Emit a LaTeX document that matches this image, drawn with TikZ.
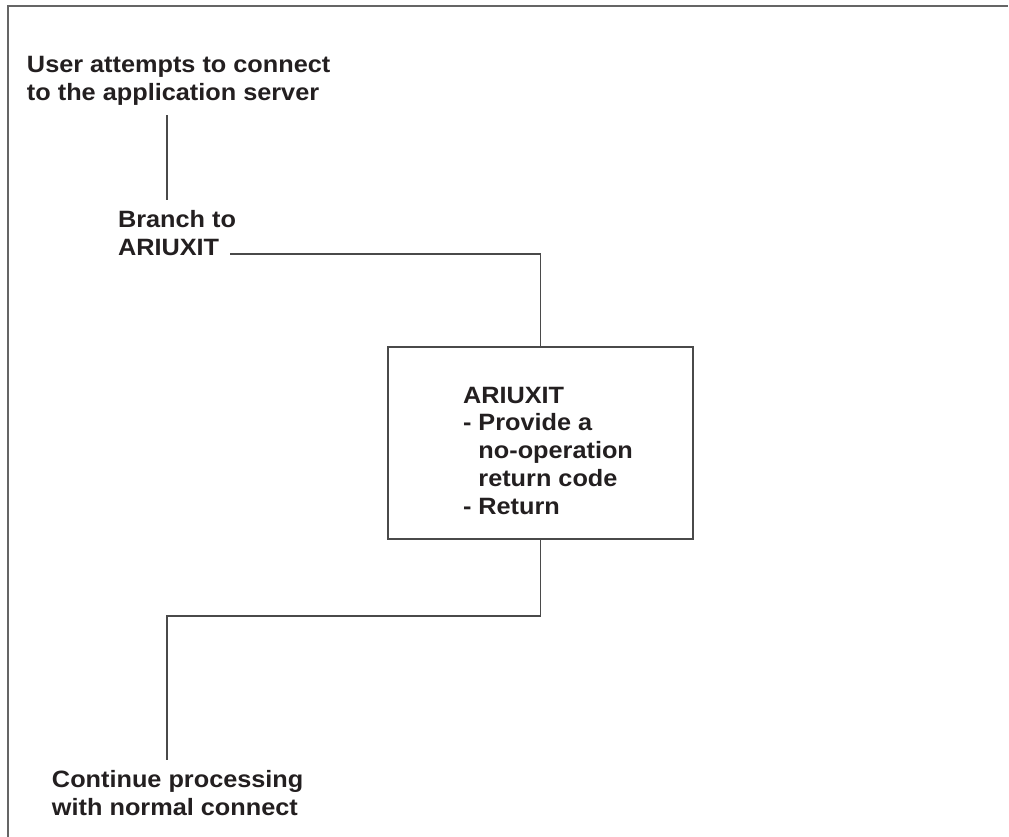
\documentclass[tikz,border=0pt]{standalone}
\usepackage{fontspec}
\setmainfont{Liberation Sans}[FakeStretch=1.07]
\usepackage{xcolor}
\usepackage{tikz}
\usetikzlibrary{positioning}
\definecolor{ink}{HTML}{231F20}
\definecolor{rule}{HTML}{4A4A4A}

\begin{document}
\begin{tikzpicture}[
    x=0.025cm, y=-0.025cm,
    every node/.style={font=\bfseries\fontsize{16.8pt}{19.7pt}\selectfont, text=ink},
    steptext/.style={align=left, inner sep=0pt, outer xsep=0pt, outer ysep=7.5pt, anchor=base west},
    exitbox/.style={draw=rule, line width=0.8pt, inner sep=0pt, outer sep=0pt,
                    minimum width=7.625cm, minimum height=4.8cm},
    link/.style={draw=rule, line width=0.8pt},
    frame/.style={draw=rule!85, line width=1.3pt}
  ]
    \useasboundingbox (0,0) rectangle (1009,837);
    \draw[frame] (8,837) -- (8,6) -- (1008,6);

    \node[steptext] (user) at (27,100) {User attempts to connect\\to the application server};
    \node[steptext] (branch) at (118,255) {Branch to\\ARIUXIT};
    \node[exitbox] (exit) at (540.5,443) {};
    \node[steptext] (exittext) at (463,514) {ARIUXIT\\- Provide a\\\phantom{- }no-operation\\\phantom{- }return code\\- Return};
    \node[steptext] (cont) at (52,815) {Continue processing\\with normal connect};

    \coordinate (spine) at (167,0);
    \coordinate (branchout) at (230,254);
    \coordinate (jog) at (167,616);

    \draw[link] (user.south -| spine) -- (branch.north -| spine);
    \draw[link] (branchout) -| (exit.north);
    \draw[link] (exit.south) |- (jog) -- (cont.north -| jog);
  \end{tikzpicture}
\end{document}
